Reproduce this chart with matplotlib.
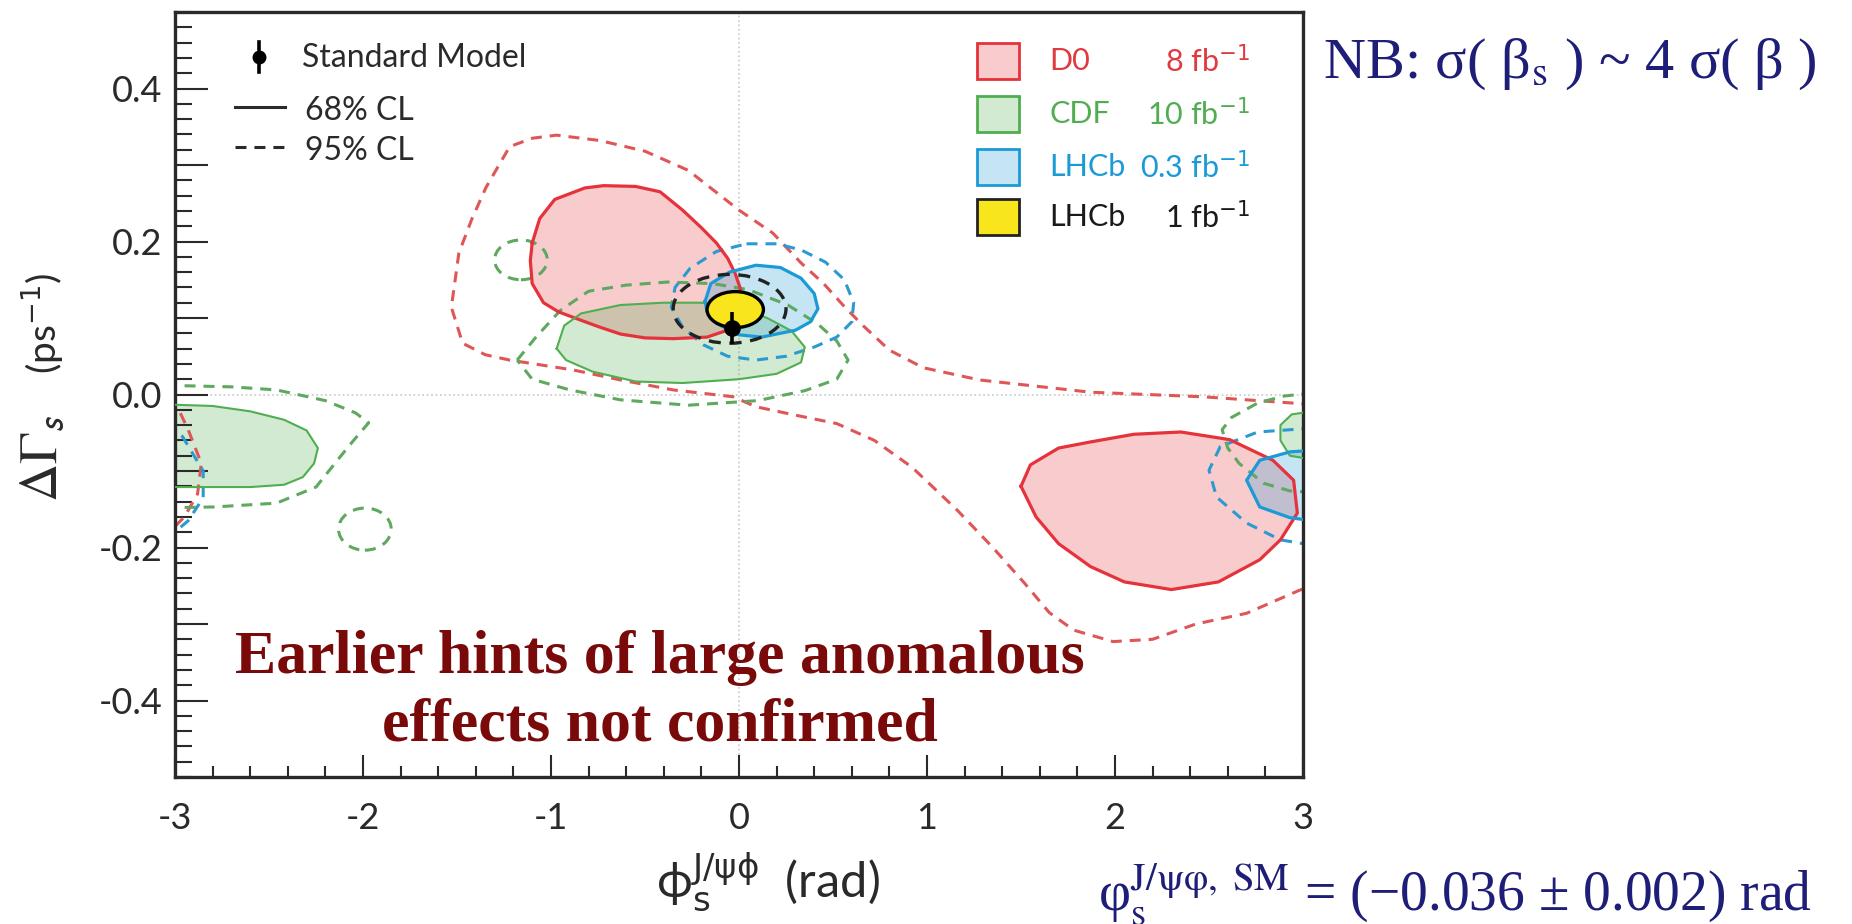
import matplotlib
matplotlib.use("Agg")
import matplotlib.pyplot as plt
from matplotlib.patches import Ellipse, Rectangle
from matplotlib.ticker import FixedLocator, FuncFormatter, MultipleLocator

plt.rcParams['font.family'] = ['Lato', 'DejaVu Sans']
plt.rcParams['axes.unicode_minus'] = False
plt.rcParams['mathtext.fontset'] = 'dejavusans'

# Contours in (phi_s [rad], DeltaGamma_s [ps^-1])
d0_68_main = [(-1.10, 0.198), (-1.06, 0.230), (-0.98, 0.255), (-0.82, 0.270), (-0.72, 0.273),
              (-0.55, 0.272), (-0.42, 0.265), (-0.30, 0.241), (-0.20, 0.218), (-0.12, 0.198),
              (-0.06, 0.178), (-0.02, 0.158), (0.005, 0.140), (0.02, 0.120), (0.01, 0.100),
              (-0.05, 0.085), (-0.17, 0.075), (-0.35, 0.073), (-0.50, 0.074), (-0.63, 0.079),
              (-0.74, 0.088), (-0.84, 0.097), (-0.96, 0.108), (-1.04, 0.120), (-1.10, 0.145),
              (-1.11, 0.175)]
d0_68_right = [(1.50, -0.120), (1.55, -0.092), (1.70, -0.070), (1.87, -0.062), (2.10, -0.052),
               (2.35, -0.049), (2.61, -0.059), (2.84, -0.086), (2.95, -0.112), (2.97, -0.155),
               (2.88, -0.190), (2.77, -0.216), (2.55, -0.245), (2.30, -0.255), (2.05, -0.245),
               (1.87, -0.225), (1.70, -0.195), (1.58, -0.160)]
d0_95 = [(3.05, -0.013), (2.47, -0.003), (1.87, 0.003), (1.28, 0.019), (0.98, 0.035),
         (0.80, 0.058), (0.66, 0.090), (0.56, 0.115), (0.45, 0.145), (0.33, 0.172),
         (0.18, 0.211), (0.00, 0.241), (-0.27, 0.293), (-0.50, 0.318), (-0.74, 0.332),
         (-0.97, 0.339), (-1.10, 0.335), (-1.22, 0.324), (-1.345, 0.271), (-1.42, 0.230),
         (-1.49, 0.185), (-1.53, 0.114), (-1.47, 0.067), (-1.35, 0.052), (-1.22, 0.045),
         (-0.88, 0.032), (-0.63, 0.019), (-0.35, 0.006), (-0.03, -0.003), (0.09, -0.016),
         (0.30, -0.027), (0.52, -0.038), (0.72, -0.060), (0.92, -0.095), (1.16, -0.151),
         (1.35, -0.200), (1.52, -0.247), (1.65, -0.285), (1.78, -0.308), (1.99, -0.323),
         (2.20, -0.320), (2.43, -0.300), (2.70, -0.286), (2.98, -0.256), (3.05, -0.250)]
d0_95_wrap = [(-3.05, -0.010), (-2.98, -0.020), (-2.93, -0.046), (-2.86, -0.090),
              (-2.88, -0.130), (-2.95, -0.160), (-3.05, -0.185)]

cdf_68_main = [(-0.97, 0.060), (-0.93, 0.090), (-0.84, 0.106), (-0.63, 0.117), (-0.40, 0.120),
               (-0.20, 0.120), (0.00, 0.113), (0.15, 0.100), (0.28, 0.083), (0.35, 0.062),
               (0.33, 0.042), (0.20, 0.027), (0.00, 0.020), (-0.30, 0.015), (-0.55, 0.017),
               (-0.78, 0.030), (-0.92, 0.045)]
cdf_68_left = [(-3.05, -0.013), (-2.80, -0.015), (-2.60, -0.022), (-2.42, -0.033),
               (-2.30, -0.047), (-2.24, -0.070), (-2.26, -0.090), (-2.32, -0.108),
               (-2.42, -0.118), (-2.60, -0.121), (-3.05, -0.121)]
cdf_68_right = [(3.05, -0.022), (2.94, -0.026), (2.88, -0.040), (2.88, -0.060), (2.93, -0.080),
                (3.05, -0.085)]
cdf_95_main = [(-1.18, 0.045), (-1.08, 0.075), (-0.95, 0.110), (-0.80, 0.135), (-0.60, 0.143),
               (-0.38, 0.147), (-0.14, 0.145), (0.05, 0.137), (0.26, 0.117), (0.42, 0.092),
               (0.52, 0.070), (0.58, 0.045), (0.52, 0.020), (0.35, 0.005), (0.10, -0.008),
               (-0.27, -0.014), (-0.63, -0.007), (-0.90, 0.006), (-1.10, 0.020), (-1.18, 0.045)]
cdf_95_left = [(-3.05, 0.012), (-2.70, 0.010), (-2.46, 0.006), (-2.20, -0.008), (-2.04, -0.024),
               (-1.97, -0.037), (-2.05, -0.060), (-2.12, -0.081), (-2.25, -0.121),
               (-2.46, -0.142), (-2.79, -0.147), (-3.05, -0.148)]
cdf_95_right = [(3.05, 0.002), (2.90, -0.002), (2.76, -0.011), (2.62, -0.030), (2.57, -0.046),
                (2.60, -0.070), (2.66, -0.090), (2.79, -0.116), (2.93, -0.126), (3.05, -0.128)]
cdf_95_islands = [(-1.16, 0.176, 0.28, 0.052), (-1.99, -0.176, 0.28, 0.055)]

lhcb03_68_main = [(-0.18, 0.122), (-0.15, 0.145), (-0.05, 0.160), (0.09, 0.169), (0.22, 0.166),
                  (0.33, 0.152), (0.40, 0.132), (0.42, 0.112), (0.38, 0.095), (0.30, 0.084),
                  (0.12, 0.075), (0.00, 0.078), (-0.12, 0.093), (-0.17, 0.108)]
lhcb03_68_right = [(3.05, -0.073), (2.93, -0.075), (2.77, -0.086), (2.70, -0.112),
                   (2.77, -0.147), (2.93, -0.161), (3.05, -0.165)]
lhcb03_95_main = [(0.04, 0.197), (0.20, 0.197), (0.33, 0.189), (0.46, 0.173), (0.56, 0.150),
                  (0.61, 0.120), (0.60, 0.095), (0.52, 0.075), (0.40, 0.062), (0.25, 0.050),
                  (0.09, 0.045), (-0.06, 0.050), (-0.19, 0.065), (-0.30, 0.088), (-0.36, 0.114),
                  (-0.34, 0.140), (-0.26, 0.165), (-0.12, 0.187), (0.04, 0.197)]
lhcb03_95_right = [(3.05, -0.044), (2.76, -0.049), (2.56, -0.068), (2.50, -0.099),
                   (2.54, -0.134), (2.70, -0.168), (2.88, -0.190), (3.05, -0.197)]
lhcb03_95_wrap = [(-3.05, -0.040), (-2.96, -0.055), (-2.85, -0.100), (-2.85, -0.135),
                  (-2.93, -0.165), (-3.05, -0.190)]

# LHCb 1 fb-1: centre, full width, full height
lhcb1_68 = (-0.02, 0.111, 0.30, 0.047)
lhcb1_95 = (-0.05, 0.112, 0.60, 0.090)

sm_phi, sm_dg, sm_dg_err = -0.036, 0.087, 0.021

legend_names = ['D0', 'CDF', 'LHCb', 'LHCb']
legend_lumi = ['8', '10', '0.3', '1']

red, green, blue = '#e5323b', '#4fae4f', '#1b9ad6'
red_d, green_d, blue_d = '#e05656', '#5fa85f', '#2a9ad0'
dash = (0, (3.6, 2.6))


def xy(pts):
    return [p[0] for p in pts], [p[1] for p in pts]


fig = plt.figure(figsize=(18.52, 9.24), dpi=100)
ax = fig.add_axes([175 / 1852, 1 - 777 / 924, 1128 / 1852, 765 / 924])
ax.set_xlim(-3, 3)
ax.set_ylim(-0.5, 0.5)

ax.axvline(0, color='#c8c8c8', lw=1.2, ls=':', zorder=0)
ax.axhline(0, color='#c8c8c8', lw=1.2, ls=':', zorder=0)

# 68% CL filled regions
for pts, col in [(d0_68_main, red), (d0_68_right, red), (cdf_68_main, green),
                 (cdf_68_left, green), (cdf_68_right, green), (lhcb03_68_main, blue),
                 (lhcb03_68_right, blue)]:
    ax.fill(*xy(pts), facecolor=col, alpha=0.25, edgecolor='none', zorder=1)

for pts, col, lw in [(d0_68_main, red, 2.3), (d0_68_right, red, 2.3), (cdf_68_main, green, 1.5),
                     (cdf_68_left, green, 1.5), (cdf_68_right, green, 1.5),
                     (lhcb03_68_main, blue, 2.3), (lhcb03_68_right, blue, 2.3)]:
    x, y = xy(pts)
    ax.plot(x + [x[0]], y + [y[0]], color=col, lw=lw, zorder=3, solid_joinstyle='round')

# 95% CL contours
for pts, col in [(d0_95, red_d), (d0_95_wrap, red_d), (cdf_95_main, green_d),
                 (cdf_95_left, green_d), (cdf_95_right, green_d), (lhcb03_95_main, blue_d),
                 (lhcb03_95_right, blue_d), (lhcb03_95_wrap, blue_d)]:
    ax.plot(*xy(pts), color=col, lw=2.2, ls=dash, zorder=2)

for cx, cy, w, h in cdf_95_islands:
    ax.add_patch(Ellipse((cx, cy), w, h, fill=False, edgecolor=green_d, lw=2.2, ls=dash, zorder=2))

cx, cy, w, h = lhcb1_95
ax.add_patch(Ellipse((cx, cy), w, h, fill=False, edgecolor='#222222', lw=2.4, ls=dash, zorder=4))
cx, cy, w, h = lhcb1_68
ax.add_patch(Ellipse((cx, cy), w, h, facecolor='#f8e51c', edgecolor='black', lw=2.4, zorder=5))

ax.errorbar([sm_phi], [sm_dg], yerr=[sm_dg_err], fmt='o', color='black', ms=11,
            elinewidth=2.6, capsize=0, zorder=6)

# axes styling
for s in ax.spines.values():
    s.set_linewidth(2.4)
    s.set_color('#2a2a2a')
ax.xaxis.set_major_locator(MultipleLocator(1))
ax.xaxis.set_minor_locator(MultipleLocator(0.2))
ax.yaxis.set_major_locator(FixedLocator([-0.4, -0.3, -0.2, -0.1, 0.0, 0.1, 0.2, 0.3, 0.4]))
ax.yaxis.set_minor_locator(MultipleLocator(0.02))
ax.yaxis.set_major_formatter(FuncFormatter(
    lambda v, p: ('%.1f' % v).replace('-0.0', '0.0') if abs(round(v * 10)) % 2 == 0 else ''))
ax.xaxis.set_major_formatter(FuncFormatter(lambda v, p: '%d' % v))
ax.tick_params(which='both', direction='in', top=False, right=False, colors='#2a2a2a',
               labelcolor='#2a2a2a', labelsize=26, width=1.5)
ax.tick_params(axis='y', which='major', length=24, pad=9)
ax.tick_params(axis='y', which='minor', length=12)
ax.tick_params(axis='x', which='major', length=16, pad=18)
ax.tick_params(axis='x', which='minor', length=8)

# Standard Model / CL key (upper left)
tA = ax.transAxes
ax.plot([0.0745], [0.941], 'o', color='black', ms=9, transform=tA, zorder=7)
ax.plot([0.0745, 0.0745], [0.921, 0.961], color='black', lw=2.6, transform=tA, zorder=7)
ax.text(0.1126, 0.940, 'Standard Model', transform=tA, fontsize=23, va='center', color='#2a2a2a')
ax.plot([0.053, 0.0975], [0.876, 0.876], color='#2a2a2a', lw=2.2, transform=tA)
ax.text(0.1152, 0.871, '68% CL', transform=tA, fontsize=23, va='center', color='#2a2a2a')
ax.plot([0.053, 0.0975], [0.824, 0.824], color='#2a2a2a', lw=2.2, ls=dash, transform=tA)
ax.text(0.1152, 0.818, '95% CL', transform=tA, fontsize=23, va='center', color='#2a2a2a')

# experiment key (upper right)
key_face = [red, green, blue, '#f8e51c']
key_edge = [red, green, blue, '#222222']
key_text = ['#e0393f', '#52ad52', '#1b9ad6', '#1a1a1a']
key_alpha = [0.25, 0.25, 0.25, 1.0]
key_rows = [0.936, 0.867, 0.797, 0.732]
for i, yk in enumerate(key_rows):
    ax.add_patch(Rectangle((0.711, yk - 0.0235), 0.037, 0.047, transform=tA,
                           facecolor=key_face[i], alpha=key_alpha[i], edgecolor='none', zorder=7))
    ax.add_patch(Rectangle((0.711, yk - 0.0235), 0.037, 0.047, transform=tA,
                           fill=False, edgecolor=key_edge[i], lw=2, zorder=7))
    ax.text(0.775, yk, legend_names[i], transform=tA, fontsize=22, va='center', color=key_text[i])
    ax.text(0.953, yk, legend_lumi[i] + r' fb$^{\mathrm{-1}}$', transform=tA, fontsize=22,
            va='center', ha='right', color=key_text[i])

# axis titles
fig.text(0.4147, 0.029, r'ϕ$_{\mathrm{s}}^{\mathrm{J/ψϕ}}$  (rad)', fontsize=35,
         ha='center', va='baseline', color='#2a2a2a')
fig.text(0.0227, 0.4567, r'$\Delta\Gamma_{\mathsf{s}}$', fontsize=38, rotation=90,
         ha='center', va='bottom', color='#2a2a2a', math_fontfamily='stix')
fig.text(0.0227, 0.7045, r'(ps$^{\mathrm{-1}}$)', fontsize=28, rotation=90,
         ha='center', va='top', color='#2a2a2a')

# annotations
note = '#7a0a0a'
fig.text(0.3564, 0.2716, 'Earlier hints of large anomalous', fontsize=44.5, fontweight='bold',
         family='Liberation Serif', color=note, ha='center', va='baseline')
fig.text(0.3564, 0.199, 'effects not confirmed', fontsize=44.5, fontweight='bold',
         family='Liberation Serif', color=note, ha='center', va='baseline')

navy = '#1e1e78'
fig.text(0.7144, 0.9156, r'NB: σ( β$_{\mathrm{s}}$ ) ~ 4 σ( β )',
         fontsize=42, family='Liberation Serif', math_fontfamily='stix', color=navy,
         ha='left', va='baseline')
fig.text(0.593, 0.0152,
         r'φ$_{\mathrm{s}}^{\mathrm{J/ψφ,\ SM}}$ = (−0.036 ± 0.002) rad',
         fontsize=40, family='Liberation Serif', math_fontfamily='stix', color=navy,
         ha='left', va='baseline')

fig.savefig('out.png', dpi=100)
